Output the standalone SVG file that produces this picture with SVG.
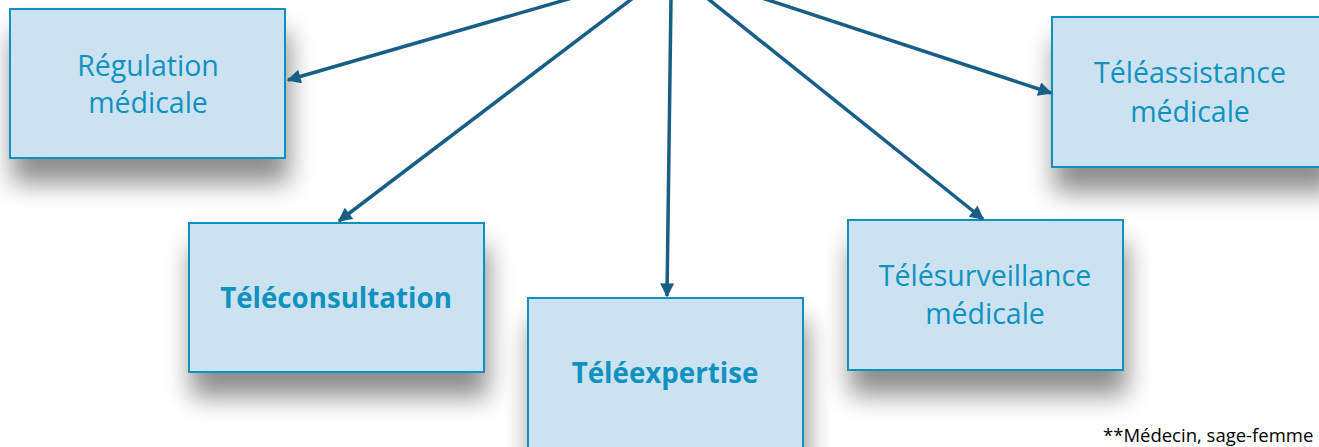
<svg xmlns="http://www.w3.org/2000/svg" width="1319" height="447" viewBox="0 0 1319 447">
<style>
.box{fill:#cce2f0;stroke:#1191bf;stroke-width:2}
.t{font-family:"Open Sans","Noto Sans",sans-serif;fill:#0f92bf;text-anchor:middle;font-size:28.5px}
.b{font-weight:bold;font-size:27.7px}
.c{stroke:#175f85;stroke-width:3.5;fill:none;marker-end:url(#ah)}
.fn{font-family:"Open Sans","Noto Sans",sans-serif;font-size:18.5px;fill:#000}
</style>
<defs>
<filter id="sh" x="-30%" y="-30%" width="160%" height="190%">
<feGaussianBlur in="SourceAlpha" stdDeviation="13"/>
<feOffset dx="3" dy="24" result="o"/>
<feComponentTransfer><feFuncA type="linear" slope="0.45"/></feComponentTransfer>
<feMerge><feMergeNode/><feMergeNode in="SourceGraphic"/></feMerge>
</filter>
<marker id="ah" viewBox="0 0 10 10" refX="9" refY="5" markerWidth="4.5" markerHeight="4" orient="auto" markerUnits="strokeWidth">
<path d="M0,0 L10,5 L0,10 z" fill="#175f85"/>
</marker>
</defs>
<rect width="1319" height="447" fill="#fff"/>
<g id="source"><rect class="box" x="450" y="-175" width="430" height="150" filter="url(#sh)"/></g>
<g id="regulation"><rect class="box" x="10" y="9" width="275" height="149" filter="url(#sh)"/>
<text class="t" x="148" y="76">Régulation</text><text class="t" x="148" y="113">médicale</text></g>
<g id="teleassistance"><rect class="box" x="1052" y="17" width="280" height="150" filter="url(#sh)"/>
<text class="t" x="1190" y="83">Téléassistance</text><text class="t" x="1190" y="122">médicale</text></g>
<g id="teleconsultation"><rect class="box" x="189" y="223" width="295" height="149" filter="url(#sh)"/>
<text class="t b" x="336" y="308">Téléconsultation</text></g>
<g id="telesurveillance"><rect class="box" x="848" y="220" width="275" height="150" filter="url(#sh)"/>
<text class="t" x="985" y="286">Télésurveillance</text><text class="t" x="985" y="324">médicale</text></g>
<g id="teleexpertise"><rect class="box" x="528" y="298" width="275" height="170" filter="url(#sh)"/>
<text class="t b" x="665" y="383">Téléexpertise</text></g>
<g id="connectors">
<line class="c" x1="572" y1="-2" x2="288" y2="80"/>
<line class="c" x1="633" y1="-2" x2="339" y2="221"/>
<line class="c" x1="671" y1="-2" x2="667" y2="296"/>
<line class="c" x1="707" y1="-2" x2="983" y2="219"/>
<line class="c" x1="762" y1="-2" x2="1051" y2="93"/>
</g>
<text class="fn" x="1103" y="442">**Médecin, sage-femme</text>
</svg>
